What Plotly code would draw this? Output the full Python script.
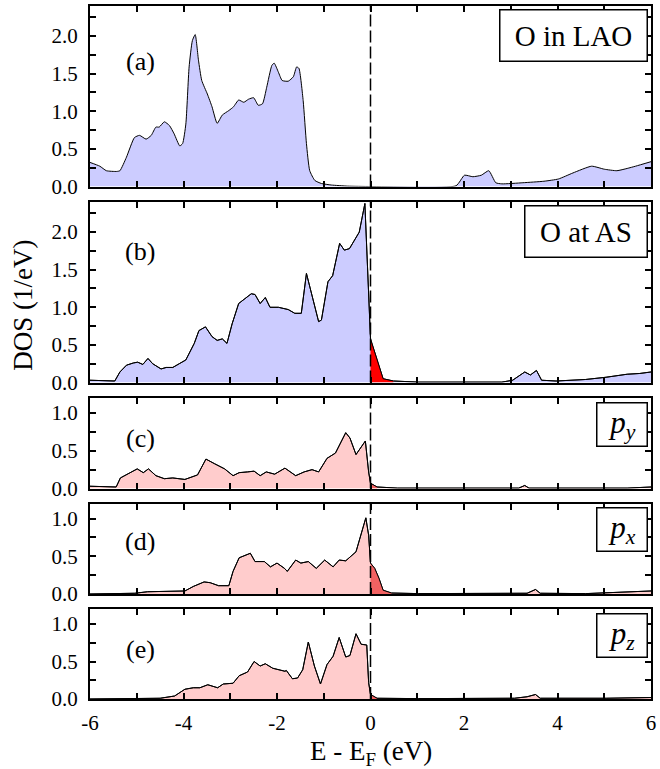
import numpy as np
import plotly.graph_objects as go

# ---------------- data ----------------
e_a = [-6.0, -5.79, -5.65, -5.43, -5.36, -5.22, -5.05, -4.94, -4.80, -4.69, -4.59, -4.52, -4.41, -4.30,
       -4.20, -4.08, -4.02, -3.95, -3.88, -3.81, -3.75, -3.68, -3.61, -3.49, -3.39, -3.28, -3.17, -3.03,
       -2.93, -2.82, -2.71, -2.61, -2.50, -2.40, -2.31, -2.22, -2.11, -2.06, -1.97, -1.89, -1.76, -1.65,
       -1.58, -1.53, -1.44, -1.37, -1.30, -1.19, -1.05, -0.84, -0.49, 0.0,
       1.83, 2.01, 2.19, 2.37, 2.53, 2.68, 2.81, 3.26, 3.71, 4.02, 4.33, 4.73, 5.0, 5.27, 5.49, 5.67, 6.0]
dos_a = [0.32, 0.27, 0.21, 0.20, 0.21, 0.39, 0.65, 0.68, 0.63, 0.68, 0.79, 0.79, 0.86, 0.81,
         0.70, 0.54, 0.57, 0.83, 1.59, 1.94, 2.02, 1.68, 1.41, 1.23, 1.06, 0.84, 0.95, 1.01,
         1.06, 1.15, 1.12, 1.16, 1.18, 1.08, 1.10, 1.32, 1.61, 1.64, 1.52, 1.41, 1.40, 1.46,
         1.59, 1.57, 1.14, 0.57, 0.21, 0.08, 0.04, 0.02, 0.005, 0.0,
         0.01, 0.15, 0.13, 0.15, 0.21, 0.05, 0.035, 0.05, 0.07, 0.10, 0.18, 0.27, 0.23, 0.21, 0.24, 0.27, 0.33]

e_b = [-6.0, -5.47, -5.36, -5.22, -5.07, -4.98, -4.87, -4.76, -4.66, -4.48, -4.37, -4.23, -4.09, -3.95,
       -3.77, -3.67, -3.53, -3.39, -3.28, -3.17, -3.07, -2.96, -2.82, -2.68, -2.55, -2.47, -2.36, -2.25,
       -2.15, -1.97, -1.76, -1.62, -1.48, -1.37, -1.23, -1.11, -1.05, -0.91, -0.81, -0.66, -0.56, -0.45,
       -0.24, -0.12, 0.0, 0.14, 0.27, 0.49, 1.03, 2.81, 3.04, 3.30, 3.42, 3.55, 3.66, 3.97, 4.6, 5.04,
       5.49, 5.76, 6.0]
dos_b = [0.03, 0.02, 0.14, 0.23, 0.26, 0.27, 0.24, 0.32, 0.25, 0.18, 0.20, 0.20, 0.25, 0.30,
         0.52, 0.69, 0.74, 0.61, 0.56, 0.58, 0.52, 0.78, 1.05, 1.12, 1.18, 1.17, 1.05, 1.13,
         1.00, 1.00, 0.97, 0.92, 0.92, 1.45, 1.09, 0.81, 0.83, 1.34, 1.42, 1.85, 1.76, 1.78,
         2.00, 2.38, 0.58, 0.30, 0.05, 0.02, 0.005, 0.005, 0.03, 0.14, 0.10, 0.16, 0.03, 0.02, 0.04, 0.07,
         0.11, 0.12, 0.14]

e_c = [-6.0, -5.44, -5.35, -5.21, -4.99, -4.86, -4.75, -4.59, -4.41, -4.23, -3.97, -3.70, -3.52, -3.34,
       -3.12, -2.94, -2.81, -2.63, -2.49, -2.36, -2.23, -2.05, -1.83, -1.60, -1.42, -1.25, -1.11, -0.93,
       -0.75, -0.53, -0.44, -0.31, -0.11, -0.04, 0.0, 0.14, 0.58, 3.17, 3.30, 3.39, 5.49, 6.0]
dos_c = [0.03, 0.02, 0.14, 0.19, 0.26, 0.21, 0.26, 0.17, 0.13, 0.14, 0.12, 0.18, 0.39, 0.33,
         0.26, 0.17, 0.21, 0.22, 0.23, 0.17, 0.22, 0.19, 0.27, 0.17, 0.22, 0.25, 0.22, 0.40,
         0.47, 0.74, 0.67, 0.45, 0.63, 0.22, 0.07, 0.02, 0.005, 0.005, 0.04, 0.005, 0.005, 0.02]

e_d = [-6.0, -5.04, -4.77, -3.97, -3.79, -3.56, -3.43, -3.25, -3.03, -2.94, -2.81, -2.67, -2.57, -2.47,
       -2.27, -2.14, -2.00, -1.84, -1.78, -1.60, -1.49, -1.33, -1.16, -0.98, -0.80, -0.67, -0.53, -0.31,
       -0.20, -0.10, -0.04, 0.0, 0.09, 0.18, 0.27, 0.45, 1.03, 3.35, 3.53, 3.63, 4.6, 5.49, 6.0]
dos_d = [0.0, 0.01, 0.03, 0.04, 0.10, 0.16, 0.15, 0.11, 0.11, 0.30, 0.48, 0.52, 0.54, 0.43,
         0.43, 0.36, 0.41, 0.34, 0.30, 0.45, 0.41, 0.43, 0.34, 0.45, 0.36, 0.45, 0.44, 0.56,
         0.78, 1.01, 0.78, 0.41, 0.34, 0.21, 0.05, 0.013, 0.005, 0.01, 0.06, 0.01, 0.005, 0.03, 0.04]

e_e = [-6.0, -5.04, -4.50, -4.19, -3.97, -3.79, -3.65, -3.48, -3.27, -3.15, -2.94, -2.81, -2.63, -2.49,
       -2.36, -2.25, -2.09, -1.83, -1.80, -1.67, -1.56, -1.45, -1.33, -1.20, -1.07, -0.93, -0.80, -0.67,
       -0.53, -0.44, -0.31, -0.20, -0.08, -0.04, 0.0, 0.14, 1.03, 3.08, 3.35, 3.53, 3.63, 5.04, 6.0]
dos_e = [0.0, 0.01, 0.01, 0.04, 0.13, 0.15, 0.15, 0.19, 0.15, 0.20, 0.21, 0.31, 0.36, 0.50,
         0.44, 0.47, 0.41, 0.37, 0.38, 0.27, 0.28, 0.39, 0.76, 0.44, 0.20, 0.46, 0.57, 0.82,
         0.56, 0.58, 0.87, 0.73, 0.72, 0.22, 0.06, 0.01, 0.005, 0.01, 0.03, 0.06, 0.01, 0.01, 0.02]

panel_tags = ["(a)", "(b)", "(c)", "(d)", "(e)"]
panel_names = ["O in LAO", "O at AS", "<i>p</i><sub><i>y</i></sub>",
               "<i>p</i><sub><i>x</i></sub>", "<i>p</i><sub><i>z</i></sub>"]
red_cut = [None, 1.0, 0.5, 0.6, 0.5]

x_tick_vals = [-6, -4, -2, 0, 2, 4, 6]
x_tick_text = ["-6", "-4", "-2", "0", "2", "4", "6"]
x_minor_vals = [-5, -3, -1, 1, 3, 5]
y_tick_vals_big = [0, 0.5, 1.0, 1.5, 2.0]
y_tick_text_big = ["0.0", "0.5", "1.0", "1.5", "2.0"]
y_minor_vals_big = [0.25, 0.75, 1.25, 1.75, 2.25]
y_tick_vals_small = [0, 0.5, 1.0]
y_tick_text_small = ["0.0", "0.5", "1.0"]
y_minor_vals_small = [0.25, 0.75]

# ---------------- figure ----------------
W, H = 660, 769
ML, MR, MT, MB = 90, 4, 6, 70
PH = H - MT - MB
FONT = "Liberation Serif"

# panel pixel extents (top, bottom) measured from top of image
pix = [(6, 186.5), (202, 382.5), (398, 488.5), (503.5, 594), (609, 699)]
domains = [[(H - MB - b) / PH, (H - MB - t) / PH] for (t, b) in pix]

series = [(e_a, dos_a), (e_b, dos_b), (e_c, dos_c), (e_d, dos_d), (e_e, dos_e)]
fills = ["#CCCCFF", "#CCCCFF", "#FFCCCC", "#FFCCCC", "#FFCCCC"]
reds = [None, "#FF0000", "#F26262", "#F26262", "#F26262"]
yranges = [2.4, 2.4, 1.2, 1.2, 1.2]
shapes_line = ["spline", "linear", "linear", "linear", "linear"]

fig = go.Figure()
layout = dict(width=W, height=H, margin=dict(l=ML, r=MR, t=MT, b=MB),
              paper_bgcolor="white", plot_bgcolor="white", showlegend=False,
              font=dict(family=FONT, size=21, color="black"))
shapes = []
annotations = []
label_y = [0.69, 0.725, 0.555, 0.578, 0.547]
box_top = [0.982, 0.983, 0.956, 0.961, 0.956]
box_w = [146, 121, 49, 49, 49]
box_h = [50, 50, 42, 42, 42]
box_fs = [29, 29, 31, 31, 31]

for i, ((ev, dv), dom) in enumerate(zip(series, domains)):
    n = "" if i == 0 else str(i + 1)
    xa, ya = "x" + n, "y" + n
    E = np.array(ev)
    D = np.array(dv)
    lshape = dict(color="black", width=1, shape=shapes_line[i])
    if shapes_line[i] == "spline":
        lshape["smoothing"] = 0.5
    fig.add_trace(go.Scatter(x=E, y=D, mode="lines", fill="tozeroy", fillcolor=fills[i],
                             line=lshape, xaxis=xa, yaxis=ya, hoverinfo="skip"))
    if red_cut[i] is not None:
        m = (E >= 0) & (E <= red_cut[i])
        fig.add_trace(go.Scatter(x=E[m], y=D[m], mode="lines", fill="tozeroy", fillcolor=reds[i],
                                 line=dict(color="rgba(0,0,0,0)", width=0), xaxis=xa, yaxis=ya,
                                 hoverinfo="skip"))
        fig.add_trace(go.Scatter(x=E, y=D, mode="lines", line=lshape,
                                 xaxis=xa, yaxis=ya, hoverinfo="skip"))
    big = yranges[i] > 2
    layout["xaxis" + n] = dict(domain=[0, 1], range=[-6, 6], anchor=ya,
                               tickmode="array", tickvals=x_tick_vals, ticktext=x_tick_text,
                               minor=dict(tickmode="array", tickvals=x_minor_vals, ticks="inside",
                                          ticklen=6, tickwidth=1.5, tickcolor="black",
                                          showgrid=False),
                               showticklabels=(i == 4), ticks="inside", ticklen=6, tickwidth=1.5,
                               tickcolor="black", showline=True, linewidth=2, linecolor="black",
                               mirror="ticks", showgrid=False, zeroline=False,
                               ticklabelstandoff=4,
                               tickfont=dict(family=FONT, size=21, color="black"))
    if i > 0:
        layout["xaxis" + n]["matches"] = "x"
    layout["yaxis" + n] = dict(domain=dom, range=[0, yranges[i]], anchor=xa,
                               tickmode="array",
                               tickvals=y_tick_vals_big if big else y_tick_vals_small,
                               ticktext=y_tick_text_big if big else y_tick_text_small,
                               minor=dict(tickmode="array",
                                          tickvals=y_minor_vals_big if big else y_minor_vals_small,
                                          ticks="inside", ticklen=6, tickwidth=1.5,
                                          tickcolor="black", showgrid=False),
                               ticks="inside", ticklen=6, tickwidth=1.5, tickcolor="black",
                               showline=True, linewidth=2, linecolor="black", mirror="ticks",
                               showgrid=False, zeroline=False, ticklabelstandoff=6,
                               tickfont=dict(family=FONT, size=21, color="black"))
    shapes.append(dict(type="line", xref=xa, yref=ya + " domain", x0=0, x1=0, y0=0, y1=1,
                       line=dict(color="black", width=1.5, dash="12px,4px")))
    annotations.append(dict(text=panel_tags[i], xref=xa + " domain", yref=ya + " domain",
                            x=0.09, y=label_y[i], xanchor="center", yanchor="middle",
                            showarrow=False, font=dict(family=FONT, size=26, color="black")))
    annotations.append(dict(text=panel_names[i], xref=xa + " domain", yref=ya + " domain",
                            x=0.995, y=box_top[i], xanchor="right", yanchor="top",
                            showarrow=False, width=box_w[i], height=box_h[i],
                            bgcolor="white", bordercolor="black", borderwidth=1.5, borderpad=0,
                            align="center", valign="middle",
                            font=dict(family=FONT, size=box_fs[i], color="black")))

annotations.append(dict(text="DOS (1/eV)", xref="paper", yref="paper", x=-0.12,
                        y=(H - MB - 305) / PH, xanchor="center", yanchor="middle",
                        textangle=-90, showarrow=False,
                        font=dict(family=FONT, size=27, color="black")))
annotations.append(dict(text="E - E<sub>F</sub> (eV)", xref="paper", yref="paper", x=0.5,
                        y=0, yshift=-54, xanchor="center", yanchor="middle", showarrow=False,
                        font=dict(family=FONT, size=27, color="black")))

layout["shapes"] = shapes
layout["annotations"] = annotations
fig.update_layout(**layout)
fig.write_html("out.html")
